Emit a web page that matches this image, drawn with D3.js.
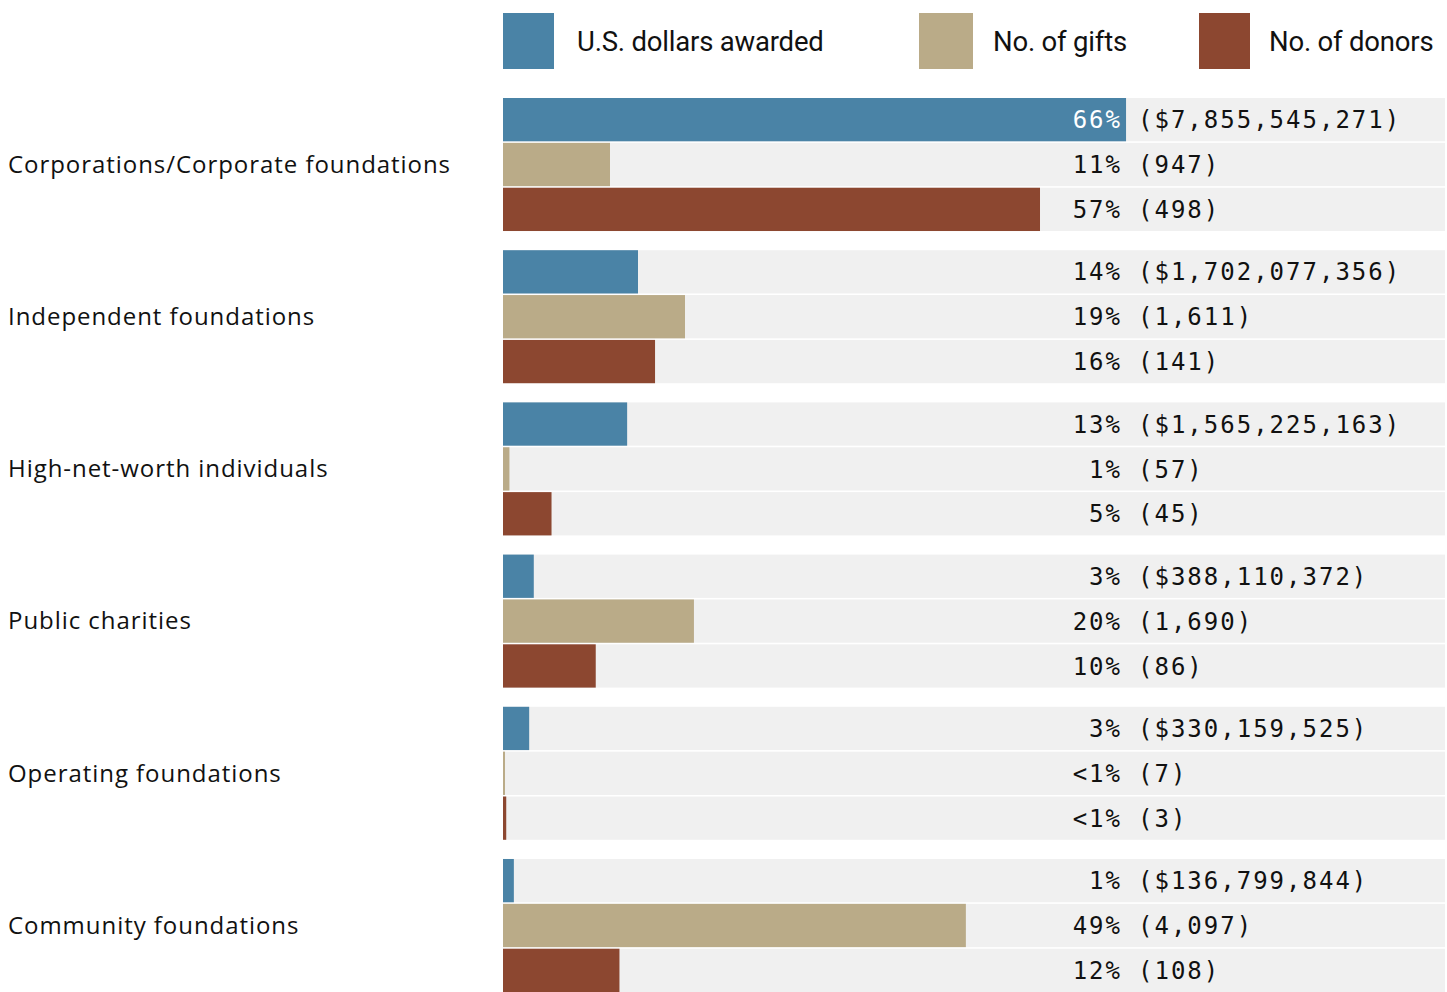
<!DOCTYPE html>
<html>
<head>
<meta charset="utf-8">
<script src="https://cdn.jsdelivr.net/npm/d3@7"></script>
<style>
body { margin: 0; background: #fff; }
</style>
</head>
<body>
<div id="chart"></div>
<script>
const categories = ["Corporations/Corporate foundations", "Independent foundations", "High-net-worth individuals", "Public charities", "Operating foundations", "Community foundations"]
const series = ["U.S. dollars awarded", "No. of gifts", "No. of donors"]
const dollars = [7855545271, 1702077356, 1565225163, 388110372, 330159525, 136799844]
const gifts = [947, 1611, 57, 1690, 7, 4097]
const donors = [498, 141, 45, 86, 3, 108]
const dollarPct = ["66%", "14%", "13%", "3%", "3%", "1%"]
const giftPct = ["11%", "19%", "1%", "20%", "<1%", "49%"]
const donorPct = ["57%", "16%", "5%", "10%", "<1%", "12%"]
const colors = ["#4a83a6", "#baab88", "#8c4730"]

const width = 1447
const height = 992
const margin = {top: 98, left: 503, right: 2, bottom: 0}

var svg = d3.select("#chart").append("svg")
  .attr("width", width)
  .attr("height", height)

const values = [dollars, gifts, donors]
const pcts = [dollarPct, giftPct, donorPct]
const totals = values.map(v => d3.sum(v))

var yGroup = d3.scaleBand()
  .domain(categories)
  .range([margin.top, height])
  .paddingInner(0.126)
  .paddingOuter(0)

var yRow = d3.scaleBand()
  .domain(series)
  .range([0, yGroup.bandwidth()])
  .paddingInner(0.035)

var x = d3.scaleLinear()
  .domain([0, 1])
  .range([0, 950])

const color = d3.scaleOrdinal().domain(series).range(colors)

// legend
const legendX = [503, 919, 1199]
var legend = svg.selectAll(".legend")
  .data(series)
  .enter()
  .append("g")
  .attr("class", "legend")
  .attr("transform", (d, i) => "translate(" + legendX[i] + ",13)")
legend.append("rect")
  .attr("width", (d, i) => i == 1 ? 54 : 51)
  .attr("height", 56)
  .attr("fill", d => color(d))
legend.append("text")
  .attr("x", (d, i) => i == 2 ? 70 : 74)
  .attr("y", 28)
  .attr("dy", "0.35em")
  .style("font-family", "Roboto, sans-serif")
  .style("font-size", "27.5px")
  .style("letter-spacing", "-0.2px")
  .attr("fill", "#111")
  .text(d => d)

// groups
var group = svg.selectAll(".group")
  .data(categories)
  .enter()
  .append("g")
  .attr("class", "group")
  .attr("transform", d => "translate(0," + yGroup(d) + ")")

group.append("text")
  .attr("x", 8)
  .attr("y", yGroup.bandwidth() / 2)
  .attr("dy", "0.35em")
  .style("font-family", "'Open Sans', sans-serif")
  .style("font-size", "24px")
  .style("letter-spacing", "0.95px")
  .attr("fill", "#111")
  .text(d => d)

var row = group.selectAll(".row")
  .data((d, gi) => series.map((s, si) => ({cat: d, gi: gi, key: s, si: si,
    value: values[si][gi], frac: values[si][gi] / totals[si], pct: pcts[si][gi]})))
  .enter()
  .append("g")
  .attr("class", "row")
  .attr("transform", d => "translate(" + margin.left + "," + yRow(d.key) + ")")

row.append("rect")
  .attr("width", width - margin.left - margin.right)
  .attr("height", yRow.bandwidth())
  .attr("fill", "#f0f0f0")

row.append("rect")
  .attr("width", d => Math.max(2, x(d.frac)))
  .attr("height", yRow.bandwidth())
  .attr("fill", d => color(d.key))

const pctX = 1122 - margin.left
const fmt = d3.format(",")
row.append("text")
  .attr("x", pctX)
  .attr("y", yRow.bandwidth() / 2)
  .attr("dy", "0.36em")
  .attr("text-anchor", "end")
  .style("font-family", "'DejaVu Sans Mono', monospace")
  .style("font-size", "24px")
  .style("letter-spacing", "2px")
  .attr("fill", d => x(d.frac) > pctX ? "#fff" : "#111")
  .text(d => d.pct)

row.append("text")
  .attr("x", 1138 - margin.left)
  .attr("y", yRow.bandwidth() / 2)
  .attr("dy", "0.36em")
  .style("font-family", "'DejaVu Sans Mono', monospace")
  .style("font-size", "24px")
  .style("letter-spacing", "2px")
  .attr("fill", "#111")
  .text(d => "(" + (d.si == 0 ? "$" : "") + fmt(d.value) + ")")
</script>
</body>
</html>
